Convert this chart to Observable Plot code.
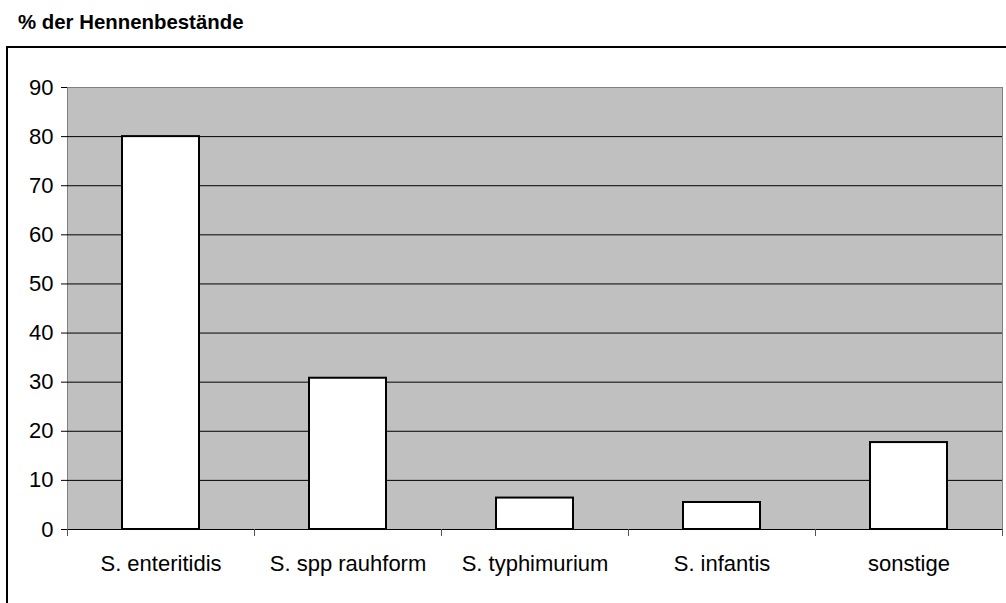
<!DOCTYPE html>
<html>
<head>
<meta charset="utf-8">
<script src="https://cdn.jsdelivr.net/npm/d3@7"></script>
<script src="https://cdn.jsdelivr.net/npm/@observablehq/plot@0.6"></script>
<style>
  body { margin: 0; background: #fff; }
  #wrap { position: relative; width: 1006px; height: 603px; overflow: hidden; font-family: "Liberation Sans", Arial, sans-serif; }
  #title { position: absolute; left: 18px; top: 12px; font-weight: bold; font-size: 20.4px; line-height: 1; color: #000; }
  #box { position: absolute; left: 6px; top: 46px; width: 1030px; height: 620px; border: 2px solid #000; }
  #chart { position: absolute; left: 0; top: 0; }
</style>
</head>
<body>
<div id="wrap">
  <div id="title">% der Hennenbestände</div>
  <div id="box"></div>
  <div id="chart"></div>
</div>
<script>
const categories = ["S. enteritidis", "S. spp rauhform", "S. typhimurium", "S. infantis", "sonstige"];
const values = [80, 30.8, 6.4, 5.5, 17.7];
const yTicks = [0, 10, 20, 30, 40, 50, 60, 70, 80, 90];
const gridTicks = [10, 20, 30, 40, 50, 60, 70, 80];

const data = categories.map((c, i) => ({category: c, value: values[i]}));

// tick marks at the category boundaries (Excel-style), derived from the x scale's range
function boundaryTicks(index, scales, vals, dims) {
  const ns = "http://www.w3.org/2000/svg";
  const g = document.createElementNS(ns, "g");
  const n = categories.length;
  const x0 = dims.marginLeft, x1 = dims.width - dims.marginRight;
  const y0 = dims.height - dims.marginBottom;
  for (let i = 0; i <= n; i++) {
    const x = Math.round(x0 + i * (x1 - x0) / n) + 0.5;
    const l = document.createElementNS(ns, "line");
    l.setAttribute("x1", x); l.setAttribute("x2", x);
    l.setAttribute("y1", y0); l.setAttribute("y2", y0 + 7);
    l.setAttribute("stroke", "#555");
    g.appendChild(l);
  }
  return g;
}

const chart = Plot.plot({
  width: 1006,
  height: 603,
  marginLeft: 67,
  marginRight: 4,
  marginTop: 87,
  marginBottom: 74,
  style: {background: "transparent", fontFamily: "'Liberation Sans', Arial, sans-serif", color: "#000", overflow: "visible"},
  x: {domain: categories, paddingInner: 0.59, paddingOuter: 0.295, label: null},
  y: {domain: [0, 90], label: null},
  marks: [
    Plot.frame({fill: "#c0c0c0", stroke: "#808080"}),
    Plot.ruleY(gridTicks, {stroke: "#000", strokeWidth: 1}),
    Plot.barY(data, {x: "category", y: "value", fill: "#fff", stroke: "#000", strokeWidth: 2}),
    Plot.ruleY([0], {stroke: "#000"}),
    Plot.axisY({ticks: yTicks, tickSize: 6, tickPadding: 8, fontSize: 22, stroke: "#000", label: null}),
    Plot.axisX({tickSize: 0, tickPadding: 26, fontSize: 22, label: null}),
    boundaryTicks
  ]
});
document.getElementById("chart").appendChild(chart);
</script>
</body>
</html>
